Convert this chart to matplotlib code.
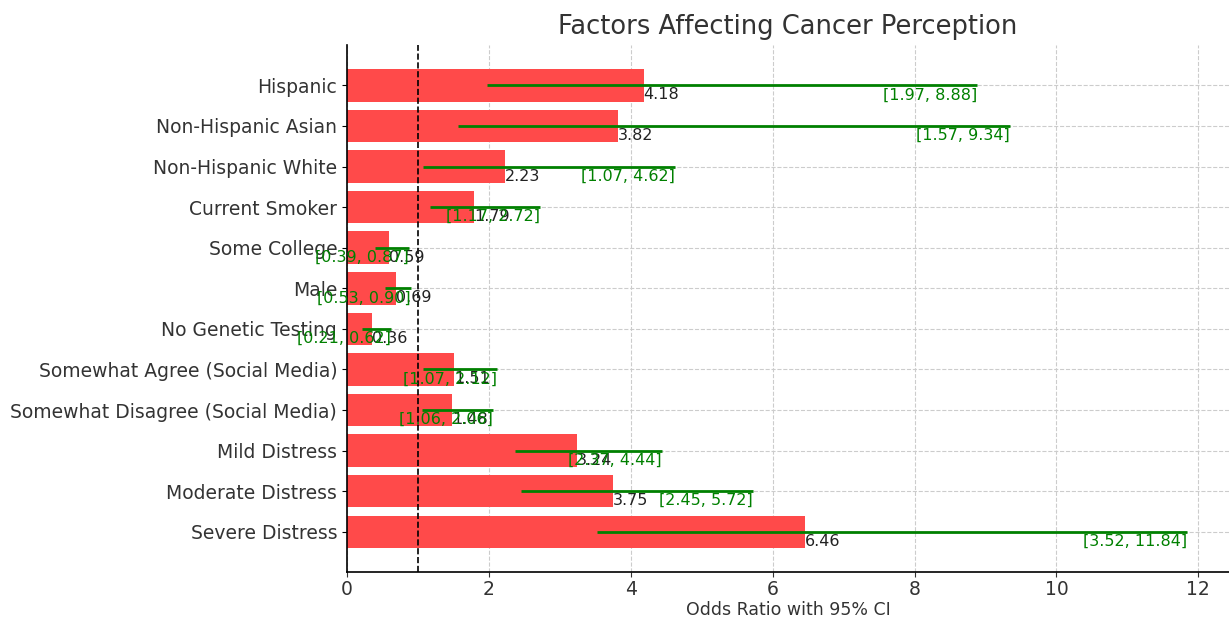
import matplotlib
matplotlib.use("Agg")
import matplotlib.pyplot as plt

factors = [
    "Hispanic", "Non-Hispanic Asian", "Non-Hispanic White", "Current Smoker",
    "Some College", "Male", "No Genetic Testing",
    "Somewhat Agree (Social Media)", "Somewhat Disagree (Social Media)",
    "Mild Distress", "Moderate Distress", "Severe Distress",
]
odds_ratio = [4.18, 3.82, 2.23, 1.79, 0.59, 0.69, 0.36, 1.51, 1.48, 3.24, 3.75, 6.46]
ci_low = [1.97, 1.57, 1.07, 1.17, 0.39, 0.53, 0.21, 1.07, 1.06, 2.37, 2.45, 3.52]
ci_high = [8.88, 9.34, 4.62, 2.72, 0.87, 0.90, 0.62, 2.12, 2.06, 4.44, 5.72, 11.84]

fig = plt.figure(figsize=(12.29, 6.19), dpi=100)
ax = fig.add_axes([0.2823, 0.076, 0.7177, 0.851])

y = list(range(len(factors)))
ax.barh(y, odds_ratio, height=0.8, color="#ff4a4a", zorder=2)
ax.hlines(y, ci_low, ci_high, color="green", linewidth=2, zorder=3)
ax.axvline(1, color="black", linestyle="--", linewidth=1.2, zorder=4)

for yi, orv, lo, hi in zip(y, odds_ratio, ci_low, ci_high):
    ax.text(orv, yi + 0.05, f"{orv:.2f}", va="top", ha="left", fontsize=11.5, color="#222222", zorder=5)
    ax.text(hi, yi + 0.05, f"[{lo:.2f}, {hi:.2f}]", va="top", ha="right", fontsize=11.5, color="green", zorder=5)

ax.set_yticks(y)
ax.set_yticklabels(factors, fontsize=13.5, color="#333333")
ax.invert_yaxis()
ax.tick_params(axis="x", labelsize=13.5, colors="#333333", pad=2)
ax.set_xlabel("Odds Ratio with 95% CI", fontsize=12.5, color="#333333", labelpad=2)
ax.set_title("Factors Affecting Cancer Perception", fontsize=18.5, color="#333333", pad=8)
ax.grid(True, linestyle="--", color="#cccccc", linewidth=0.8, zorder=0)
ax.set_axisbelow(True)
ax.spines["top"].set_visible(False)
ax.spines["right"].set_visible(False)
ax.spines["left"].set_linewidth(1.2)
ax.spines["bottom"].set_linewidth(1.2)

fig.savefig("out.png", dpi=100)
